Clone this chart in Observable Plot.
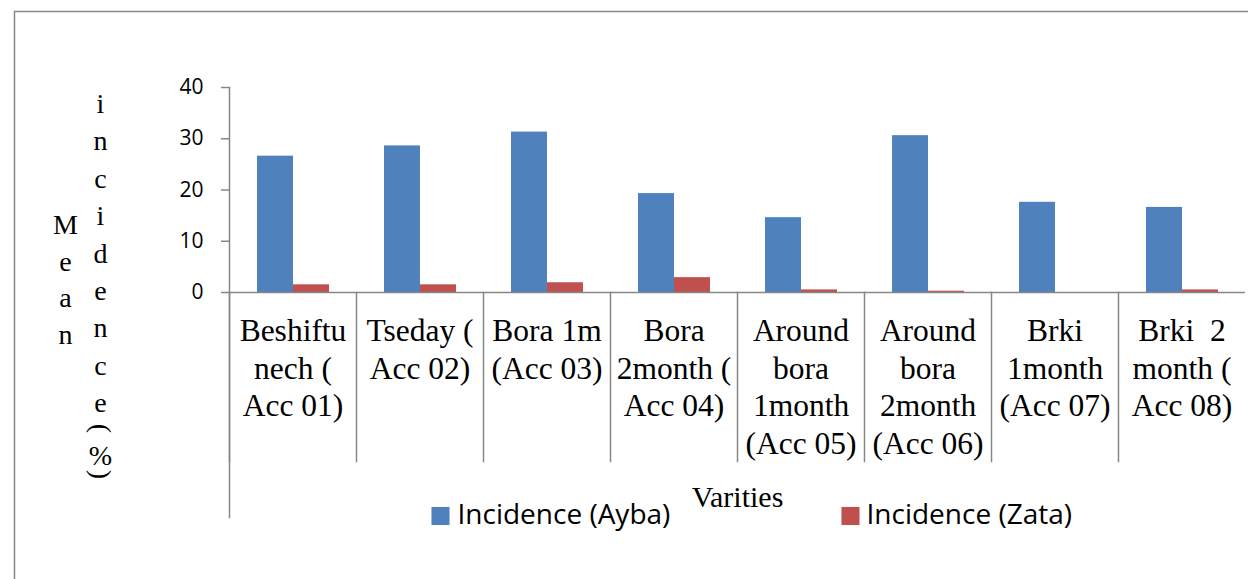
<!DOCTYPE html>
<html>
<head>
<meta charset="utf-8">
<script src="https://cdn.jsdelivr.net/npm/d3@7"></script>
<script src="https://cdn.jsdelivr.net/npm/@observablehq/plot@0.6"></script>
<style>
html, body { margin: 0; padding: 0; background: #fff; overflow: hidden; }
</style>
</head>
<body>
<div id="chart"></div>
<script>
// ---- data ----
const varieties = [
  "Beshiftu\nnech (\nAcc 01)",
  "Tseday (\nAcc 02)",
  "Bora 1m\n(Acc 03)",
  "Bora\n2month (\nAcc 04)",
  "Around\nbora\n1month\n(Acc 05)",
  "Around\nbora\n2month\n(Acc 06)",
  "Brki\n1month\n(Acc 07)",
  "Brki  2\nmonth (\nAcc 08)"
];
const series = ["Incidence (Ayba)", "Incidence (Zata)"];
const ayba = [26.6, 28.6, 31.3, 19.3, 14.6, 30.6, 17.6, 16.6];
const zata = [1.5, 1.5, 1.9, 2.9, 0.5, 0.25, 0, 0.5];
const yTicks = [0, 10, 20, 30, 40];
const yTitleWord1 = "Mean";
const yTitleWord2 = "incidence";
const yTitleUnit = ["(", "%", ")"];
const xTitle = "Varities";

// ---- table for the library ----
const rows = varieties.flatMap((v, i) => [
  {variety: v, series: series[0], value: ayba[i]},
  {variety: v, series: series[1], value: zata[i]}
]);

// ---- layout / style ----
const W = 1248, H = 579, mL = 226, mT = 87, yBase = 292;
const serif = "'Liberation Serif', 'Times New Roman', serif";
const sans = "'Open Sans', 'Liberation Sans', sans-serif";
const gray = "#878787";
const colors = ["#4f81bd", "#c0504d"];

const txt = {facet: "super", frameAnchor: "top-left", textAnchor: "middle", lineAnchor: "middle", fill: "black"};

const legendMarks = series.flatMap((s, i) => {
  const sx = [437, 847][i];
  const tx = [454, 863][i];
  return [
    Plot.dot([s], {facet: "super", frameAnchor: "top-left", dx: sx - mL, dy: 515.5 - mT,
      symbol: "square", r: 10.2, fill: d => d, stroke: null}),
    Plot.text([s], {...txt, dx: tx - mL, dy: 515 - mT, textAnchor: "start",
      fontSize: 28, fontFamily: sans})
  ];
});

const lhM = 36.5 / 28, lhI = 37.4 / 28;

const chart = Plot.plot({
  width: W,
  height: H,
  marginLeft: mL,
  marginRight: 0,
  marginTop: mT,
  marginBottom: H - yBase,
  style: {background: "white", overflow: "visible"},
  fx: {domain: varieties, padding: 0, axis: null},
  x: {domain: series, paddingInner: 0, paddingOuter: 0.75, axis: null},
  y: {domain: [0, 40], axis: null},
  color: {domain: series, range: colors},
  marks: [
    // outer chart-area border
    Plot.frame({facet: "super", stroke: gray, strokeWidth: 1.5,
      insetLeft: 11 - mL, insetTop: 11 - mT, insetRight: -20, insetBottom: -(H - yBase) - 20}),
    // bars
    Plot.barY(rows, {fx: "variety", x: "series", y: "value", fill: "series"}),
    // baseline
    Plot.ruleY([0], {stroke: gray, strokeWidth: 1.5}),
    // category dividers below the axis
    Plot.frame({anchor: "left", stroke: gray, strokeWidth: 1.5,
      insetTop: yBase - mT, insetBottom: -(461 - yBase)}),
    // y axis line (extends down past table)
    Plot.frame({anchor: "left", facetAnchor: "left", stroke: gray, strokeWidth: 1.5,
      insetBottom: -(517 - yBase)}),
    // y axis ticks + labels
    Plot.axisY(yTicks, {anchor: "left", tickSize: 8, tickPadding: 18, stroke: gray, strokeWidth: 1.5,
      fill: "black", fontSize: 21, fontFamily: sans, label: null}),
    // category labels
    Plot.text(varieties, {fx: d => d, text: d => d, frameAnchor: "bottom", textAnchor: "middle",
      lineAnchor: "top", dy: 22, fontSize: 31.5, lineHeight: 37.5 / 31.5, fontFamily: serif, fill: "black"}),
    // y title, stacked letters
    Plot.text([yTitleWord1.split("").join("\n")], {...txt, lineAnchor: "top",
      dx: 62 - mL, dy: 234 - 0.71 * lhM * 28 - mT, fontSize: 28, lineHeight: lhM, fontFamily: serif}),
    Plot.text([yTitleWord2.split("").join("\n")], {...txt, lineAnchor: "top",
      dx: 97 - mL, dy: 112.5 - 0.71 * lhI * 28 - mT, fontSize: 28, lineHeight: lhI, fontFamily: serif}),
    Plot.text([yTitleUnit[0]], {...txt, dx: 97 - mL, dy: 428 - mT, rotate: 90, fontSize: 28, fontFamily: serif}),
    Plot.text([yTitleUnit[1]], {...txt, dx: 97 - mL, dy: 456 - mT, fontSize: 28, fontFamily: serif}),
    Plot.text([yTitleUnit[2]], {...txt, dx: 97 - mL, dy: 474 - mT, rotate: 90, fontSize: 28, fontFamily: serif}),
    // x title
    Plot.text([xTitle], {...txt, frameAnchor: "top", dy: 497 - mT, fontSize: 30, fontFamily: serif}),
    // legend
    ...legendMarks
  ]
});

document.getElementById("chart").append(chart);
</script>
</body>
</html>
